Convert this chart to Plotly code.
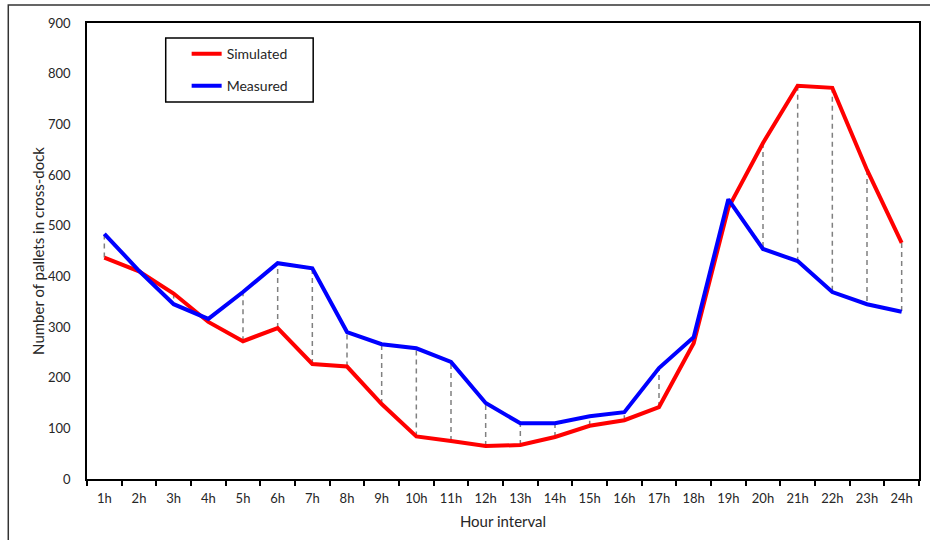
import plotly.graph_objects as go

hours = [f"{i}h" for i in range(1, 25)]
simulated = [437, 410, 366, 310, 272, 298, 227, 222, 148, 84, 75, 65, 67, 83,
             105, 116, 142, 268, 535, 663, 776, 772, 610, 466]
measured = [484, 411, 345, 316, 369, 426, 416, 290, 266, 258, 231, 150, 110, 110,
            124, 132, 219, 280, 552, 454, 430, 369, 345, 330]
y_ticks = list(range(0, 901, 100))

# high-low connector lines
hl_x, hl_y = [], []
for h, s, m in zip(hours, simulated, measured):
    hl_x += [h, h, None]
    hl_y += [s, m, None]

fig = go.Figure()
fig.add_trace(go.Scatter(x=hl_x, y=hl_y, mode="lines", showlegend=False,
                         line=dict(color="#808080", width=1.5, dash="5px,4px"),
                         hoverinfo="skip"))
fig.add_trace(go.Scatter(x=hours, y=simulated, mode="lines", name="Simulated",
                         legendgroup="a", line=dict(color="#FF0000", width=4)))
fig.add_trace(go.Scatter(x=hours, y=measured, mode="lines", name="Measured",
                         legendgroup="b", line=dict(color="#0000FF", width=4)))

font = "Lato, 'Open Sans', sans-serif"
fig.update_layout(
    width=930, height=540,
    margin=dict(l=87, r=9, t=23, b=61),
    paper_bgcolor="white", plot_bgcolor="white",
    font=dict(family=font, color="#262626", size=13),
    legend=dict(x=(187 - 87) / 835, y=0.967, xanchor="left", yanchor="top",
                bgcolor="rgba(0,0,0,0)", borderwidth=0,
                font=dict(size=14, family=font, color="#262626"),
                tracegroupgap=11, itemwidth=30),
    xaxis=dict(type="category", categoryorder="array", categoryarray=hours,
               range=[-0.5, 23.5], tickson="boundaries", ticks="outside",
               ticklen=5, tickcolor="black", tickwidth=1.5, ticklabelstandoff=7,
               showline=True, linecolor="black", linewidth=1.5, mirror=True,
               showgrid=False, zeroline=False,
               title=dict(text="Hour interval", font=dict(size=15), standoff=11)),
    yaxis=dict(range=[0, 900], tickvals=y_ticks, ticks="",
               showline=True, linecolor="black", linewidth=1.5, mirror=True,
               showgrid=False, zeroline=False, ticklabelstandoff=12,
               title=dict(text="Number of pallets in cross-dock", font=dict(size=15),
                          standoff=0)),
    shapes=[
        dict(type="rect", xref="paper", yref="paper",
             x0=(166 - 87) / 835, x1=(314 - 87) / 835,
             y0=(479 - 102) / 456, y1=(479 - 38) / 456,
             line=dict(color="black", width=1.5), fillcolor="rgba(0,0,0,0)"),
        dict(type="rect", xref="paper", yref="paper",
             x0=(8 - 87) / 835, x1=(940 - 87) / 835,
             y0=(479 - 550) / 456, y1=(479 - 5) / 456,
             line=dict(color="#333333", width=1.5), fillcolor="rgba(0,0,0,0)"),
    ],
)

fig.write_html("out.html", config={"displayModeBar": False},
               post_script="document.body.style.margin='0';")
